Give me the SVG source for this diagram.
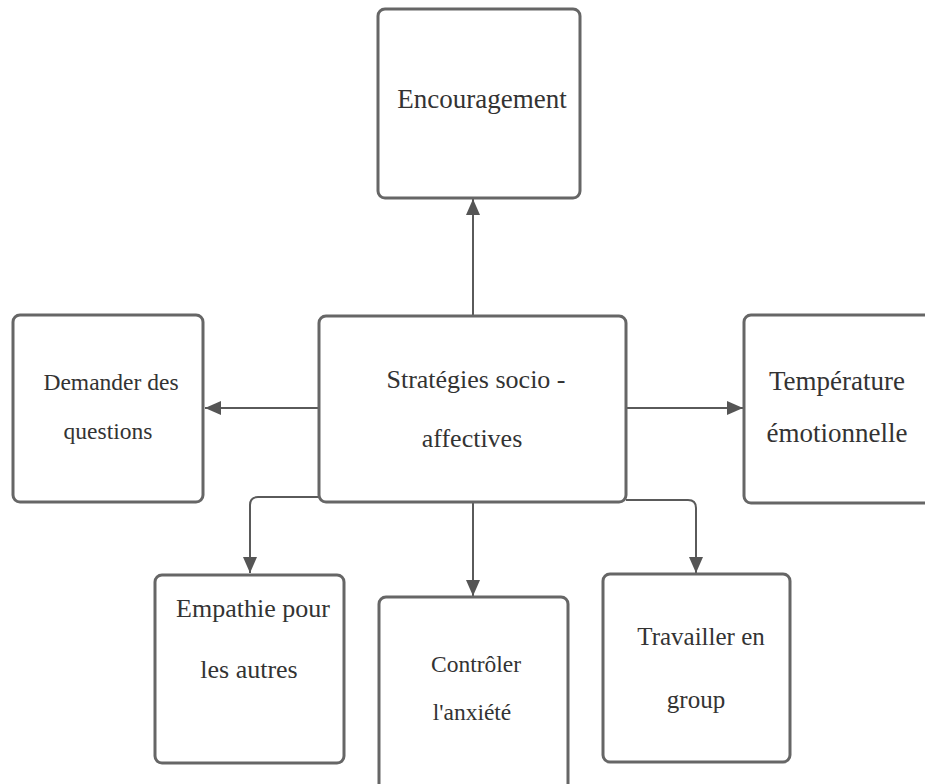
<svg xmlns="http://www.w3.org/2000/svg" width="925" height="784" viewBox="0 0 925 784">
  <defs>
    <style>
      .box { fill: #ffffff; stroke: #666666; stroke-width: 3; }
      .lbl { fill: #333333; text-anchor: middle; }
      .conn { fill: none; stroke: #5a5a5a; stroke-width: 2; }
    </style>
    <marker id="arrow" markerUnits="userSpaceOnUse" markerWidth="16" markerHeight="14" refX="16" refY="7" orient="auto">
      <path d="M0,0 L16,7 L0,14 z" fill="#555555"/>
    </marker>
  </defs>
  <rect x="0" y="0" width="925" height="784" fill="#ffffff"/>

  <g id="connectors">
    <path class="conn" d="M473,316 L473,199" marker-end="url(#arrow)"/>
    <path class="conn" d="M319,408 L205,408" marker-end="url(#arrow)"/>
    <path class="conn" d="M626,408 L743,408" marker-end="url(#arrow)"/>
    <path class="conn" d="M319,497 L258,497 Q250,497 250,505 L250,573" marker-end="url(#arrow)"/>
    <path class="conn" d="M473,502 L473,596" marker-end="url(#arrow)"/>
    <path class="conn" d="M626,500 L688,500 Q696,500 696,508 L696,573" marker-end="url(#arrow)"/>
  </g>

  <g id="node-encouragement" font-family="'Liberation Serif', 'DejaVu Serif', serif">
    <rect class="box" x="378" y="9" width="202" height="189" rx="7"/>
    <text class="lbl" x="482" y="108" font-size="27">Encouragement</text>
  </g>

  <g id="node-center" font-family="'Liberation Serif', 'DejaVu Serif', serif">
    <rect class="box" x="319" y="316" width="307" height="186" rx="7"/>
    <text class="lbl" x="476" y="388" font-size="26">Stratégies socio -</text>
    <text class="lbl" x="472" y="447" font-size="26">affectives</text>
  </g>

  <g id="node-demander" font-family="'Liberation Serif', 'DejaVu Serif', serif">
    <rect class="box" x="13" y="315" width="190" height="187" rx="7"/>
    <text class="lbl" x="111" y="390" font-size="23.5">Demander des</text>
    <text class="lbl" x="108" y="439" font-size="23.5">questions</text>
  </g>

  <g id="node-temperature" font-family="'Liberation Serif', 'DejaVu Serif', serif">
    <rect class="box" x="744" y="315" width="190" height="188" rx="7"/>
    <text class="lbl" x="837" y="390" font-size="27">Température</text>
    <text class="lbl" x="837" y="442" font-size="27">émotionnelle</text>
  </g>

  <g id="node-empathie" font-family="'Liberation Serif', 'DejaVu Serif', serif">
    <rect class="box" x="155" y="575" width="189" height="188" rx="7"/>
    <text class="lbl" x="253" y="617" font-size="26">Empathie pour</text>
    <text class="lbl" x="249" y="678" font-size="26">les autres</text>
  </g>

  <g id="node-controler" font-family="'Liberation Serif', 'DejaVu Serif', serif">
    <rect class="box" x="379" y="597" width="189" height="200" rx="7"/>
    <text class="lbl" x="476" y="672" font-size="23.5">Contrôler</text>
    <text class="lbl" x="472" y="720" font-size="23.5">l'anxiété</text>
  </g>

  <g id="node-travailler" font-family="'Liberation Serif', 'DejaVu Serif', serif">
    <rect class="box" x="603" y="574" width="187" height="188" rx="7"/>
    <text class="lbl" x="701" y="645" font-size="25">Travailler en</text>
    <text class="lbl" x="696" y="708" font-size="25">group</text>
  </g>
</svg>
